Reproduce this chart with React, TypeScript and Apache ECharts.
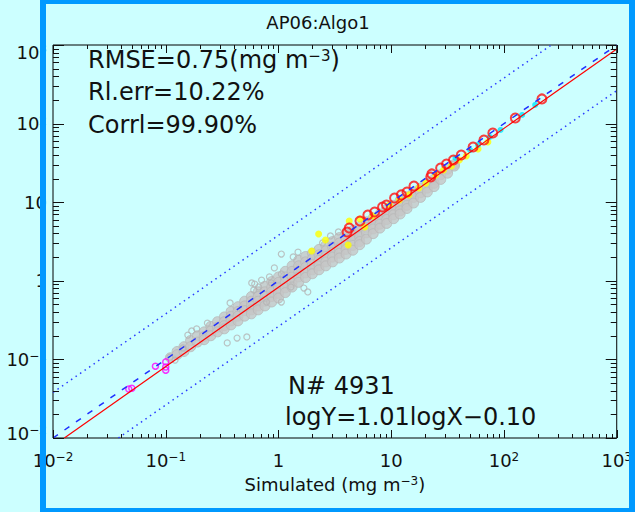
import React, { useEffect, useRef } from 'react';
import * as echarts from 'echarts';

const AXIS_MIN = 0.01;
const AXIS_MAX = 1000;

// Axis ticks and labels
const tickValues = [0.01, 0.1, 1, 10, 100, 1000];
const xTickLabels = ['{n|10}{s|−2}', '{n|10}{s|−1}', '{n|1}', '{n|10}', '{n|10}{s|2}', '{n|10}{s|3}'];
const yTickLabels = ['{nb|10}{sb|−2}', '{n|10}{s|−1}', '{n|1}', '{n|10}', '{n|10}{s|2}', '{nt|10}{st|3}'];
const minorTickValues = [
  0.02, 0.03, 0.04, 0.05, 0.06, 0.07, 0.08, 0.09,
  0.2, 0.3, 0.4, 0.5, 0.6, 0.7, 0.8, 0.9,
  2, 3, 4, 5, 6, 7, 8, 9,
  20, 30, 40, 50, 60, 70, 80, 90,
  200, 300, 400, 500, 600, 700, 800, 900,
];

const greyDense: number[][] = [
  [0.110, 0.105],
  [0.126, 0.126], [0.126, 0.115],
  [0.145, 0.145], [0.145, 0.126],
  [0.166, 0.174], [0.166, 0.145],
  [0.191, 0.200], [0.191, 0.166],
  [0.219, 0.224], [0.219, 0.195], [0.219, 0.178],
  [0.251, 0.263], [0.251, 0.229], [0.251, 0.200],
  [0.288, 0.302], [0.288, 0.257], [0.288, 0.224],
  [0.331, 0.347], [0.331, 0.302], [0.331, 0.269], [0.331, 0.245],
  [0.380, 0.407], [0.380, 0.355], [0.380, 0.309], [0.380, 0.275],
  [0.437, 0.468], [0.437, 0.407], [0.437, 0.355], [0.437, 0.309],
  [0.501, 0.550], [0.501, 0.479], [0.501, 0.417], [0.501, 0.355],
  [0.575, 0.631], [0.575, 0.550], [0.575, 0.479], [0.575, 0.427], [0.575, 0.380],
  [0.661, 0.724], [0.661, 0.631], [0.661, 0.550], [0.661, 0.479], [0.661, 0.427],
  [0.759, 0.851], [0.759, 0.724], [0.759, 0.631], [0.759, 0.550], [0.759, 0.479],
  [0.871, 0.977], [0.871, 0.832], [0.871, 0.724], [0.871, 0.631], [0.871, 0.537],
  [1.00, 1.12], [1.00, 0.955], [1.00, 0.813], [1.00, 0.692], [1.00, 0.603],
  [1.15, 1.32], [1.15, 1.12], [1.15, 0.955], [1.15, 0.813], [1.15, 0.708],
  [1.32, 1.55], [1.32, 1.32], [1.32, 1.12], [1.32, 0.955], [1.32, 0.832],
  [1.51, 1.82], [1.51, 1.55], [1.51, 1.32], [1.51, 1.12], [1.51, 0.955],
  [1.74, 2.04], [1.74, 1.74], [1.74, 1.48], [1.74, 1.26], [1.74, 1.10],
  [2.00, 2.24], [2.00, 1.91], [2.00, 1.62], [2.00, 1.38], [2.00, 1.23],
  [2.29, 2.51], [2.29, 2.14], [2.29, 1.82], [2.29, 1.55], [2.29, 1.38],
  [2.63, 2.82], [2.63, 2.40], [2.63, 2.04], [2.63, 1.74], [2.63, 1.55],
  [3.02, 3.16], [3.02, 2.69], [3.02, 2.29], [3.02, 2.00], [3.02, 1.74],
  [3.47, 3.55], [3.47, 3.02], [3.47, 2.57], [3.47, 2.24], [3.47, 1.95],
  [3.98, 3.98], [3.98, 3.39], [3.98, 2.88], [3.98, 2.51], [3.98, 2.19],
  [4.57, 4.37], [4.57, 3.80], [4.57, 3.24], [4.57, 2.82], [4.57, 2.45],
  [5.25, 4.90], [5.25, 4.27], [5.25, 3.63], [5.25, 3.16], [5.25, 2.88],
  [6.03, 5.62], [6.03, 4.79], [6.03, 4.07], [6.03, 3.39],
  [6.92, 6.31], [6.92, 5.37], [6.92, 4.57], [6.92, 3.98],
  [7.94, 7.08], [7.94, 6.03], [7.94, 5.25], [7.94, 4.68],
  [9.12, 8.13], [9.12, 6.92], [9.12, 6.03], [9.12, 5.37],
  [10.5, 9.12], [10.5, 7.94], [10.5, 6.92], [10.5, 6.17],
  [12.0, 10.5], [12.0, 8.91], [12.0, 7.76], [12.0, 7.08],
  [13.8, 11.7], [13.8, 10.2], [13.8, 9.12], [13.8, 8.32],
  [15.8, 13.5], [15.8, 11.5], [15.8, 9.77],
  [18.2, 15.1], [18.2, 13.2], [18.2, 11.5],
  [20.9, 17.4], [20.9, 15.1], [20.9, 13.5],
  [24.0, 19.5], [24.0, 17.4], [24.0, 15.8],
  [27.5, 22.4], [27.5, 19.5],
  [31.6, 26.3], [31.6, 23.4],
  [36.3, 30.2], [36.3, 28.8],
];

// Scattered grey points around the cloud
const greyScattered: number[][] = [
  [0.109, 0.107], [0.121, 0.098], [0.142, 0.140], [0.157, 0.204], [0.170, 0.230],
  [0.188, 0.244], [0.234, 0.290], [0.351, 0.162], [0.429, 0.187], [0.524, 0.193],
  [0.615, 0.910], [0.667, 0.834], [0.865, 0.938], [1.06, 1.22], [0.372, 0.522],
  [0.579, 0.938], [0.603, 0.764], [0.708, 1.02], [0.832, 1.12], [0.919, 1.46],
  [1.06, 2.19], [1.35, 2.01], [1.49, 2.32], [1.29, 0.834], [1.68, 0.809],
  [1.82, 0.721], [1.06, 0.537], [0.783, 0.537], [2.46, 3.03], [2.89, 3.72], [3.40, 4.18],
];

const yellowPoints: number[][] = [
  [2.27, 3.94], [2.61, 3.30], [1.97, 2.39], [4.24, 5.77], [4.15, 2.85], [5.83, 4.83],
  [5.28, 6.11], [6.86, 6.67], [9.64, 9.21], [11.8, 10.7], [14.4, 12.4], [17.6, 15.2],
  [20.3, 17.5], [24.8, 22.2], [29.1, 25.7], [34.2, 28.9], [40.2, 34.4], [46.3, 38.7],
  [58.9, 47.5], [72.0, 58.3],
];

const cyanPoints: number[][] = [
  [37.1, 36.5], [50.1, 46.1], [58.9, 53.5], [74.9, 67.6], [93.3, 83.0], [145, 129], [189, 173],
];

const magentaPoints: number[][] = [
  [0.047, 0.042], [0.050, 0.043], [0.081, 0.082], [0.100, 0.093], [0.100, 0.080], [0.100, 0.073],
];

const redCircles: number[][] = [
  [4.06, 4.18], [4.24, 4.70], [5.28, 5.77], [6.20, 6.87], [7.13, 7.50], [8.37, 8.69],
  [9.07, 9.21], [10.7, 11.3], [12.3, 12.4], [13.8, 13.5], [15.9, 16.1], [22.4, 20.9],
  [22.9, 22.9], [27.4, 27.2], [30.9, 30.6], [35.6, 34.4], [41.8, 39.9], [53.2, 50.4],
  [66.4, 61.8], [79.6, 75.9], [126, 118], [217, 206],
];

// Reference lines
const oneToOneX = [0.01, 1000];
const oneToOneY = [0.01, 1000];
const fitX = [0.0126, 1000];
const fitY = [0.01, 891];
const upperX = [0.01, 263];
const upperY = [0.038, 1000];
const lowerX = [0.038, 1000];
const lowerY = [0.01, 263];

const FONT = 'DejaVu Sans';
const TXT = '#111111';

function pairs(xs: number[], ys: number[]) {
  return xs.map((x, i) => [x, ys[i]]);
}

function tickIndex(v: number) {
  return tickValues.findIndex((t) => Math.abs(Math.log10(t) - Math.log10(v)) < 1e-6);
}

export default function App() {
  const ref = useRef<HTMLDivElement>(null);

  useEffect(() => {
    if (!ref.current) return;
    const chart = echarts.init(ref.current, undefined, { renderer: 'svg' });

    const labelRich = {
      n: { fontSize: 18, fontFamily: FONT, color: TXT },
      s: { fontSize: 12, fontFamily: FONT, color: TXT, verticalAlign: 'top' },
      nt: { fontSize: 18, fontFamily: FONT, color: TXT, padding: [14, 0, 0, 0] },
      st: { fontSize: 12, fontFamily: FONT, color: TXT, verticalAlign: 'top', padding: [14, 0, 0, 0] },
      nb: { fontSize: 18, fontFamily: FONT, color: TXT, padding: [0, 0, 10, 0] },
      sb: { fontSize: 12, fontFamily: FONT, color: TXT, verticalAlign: 'top', padding: [0, 0, 10, 0] },
    };

    const baseAxis = {
      type: 'log',
      logBase: 10,
      min: AXIS_MIN,
      max: AXIS_MAX,
      axisLine: { show: false },
      axisTick: { show: false },
      minorTick: { show: false },
      splitLine: { show: false },
    };

    const annRich = {
      a: { fontSize: 24, fontFamily: FONT, fill: TXT },
      b: { fontSize: 15, fontFamily: FONT, fill: TXT, verticalAlign: 'top' },
    };

    const frameColor = '#0099ff';

    const option: any = {
      animation: false,
      backgroundColor: '#ccffff',
      grid: {
        left: 53,
        top: 45,
        right: 8,
        bottom: 74,
        show: true,
        borderColor: '#000',
        borderWidth: 1,
        backgroundColor: 'transparent',
      },
      xAxis: {
        ...baseAxis,
        name: '{a|Simulated (mg m}{b|−3}{a|)}',
        nameLocation: 'middle',
        nameGap: 37,
        nameTextStyle: {
          rich: {
            a: { fontSize: 18, fontFamily: FONT, color: TXT },
            b: { fontSize: 12, fontFamily: FONT, color: TXT, verticalAlign: 'top' },
          },
        },
        axisLabel: {
          margin: 13,
          showMinLabel: true,
          showMaxLabel: true,
          hideOverlap: false,
          formatter: (v: number) => xTickLabels[tickIndex(v)] ?? '',
          rich: labelRich,
        },
      },
      yAxis: {
        ...baseAxis,
        axisLabel: {
          margin: 6,
          showMinLabel: true,
          showMaxLabel: true,
          hideOverlap: false,
          formatter: (v: number) => yTickLabels[tickIndex(v)] ?? '',
          rich: labelRich,
        },
      },
      graphic: [
        {
          type: 'text', x: 318, y: 22,
          style: { text: 'AP06:Algo1', font: `18px "${FONT}"`, fill: TXT, align: 'center', verticalAlign: 'middle' },
        },
        {
          type: 'text', x: 88, y: 60,
          style: { text: '{a|RMSE=0.75(mg m}{b|−3}{a|)}', rich: annRich, fill: TXT, verticalAlign: 'middle' },
        },
        {
          type: 'text', x: 88, y: 92,
          style: { text: 'Rl.err=10.22%', font: `24px "${FONT}"`, fill: TXT, verticalAlign: 'middle' },
        },
        {
          type: 'text', x: 88, y: 125,
          style: { text: 'Corrl=99.90%', font: `24px "${FONT}"`, fill: TXT, verticalAlign: 'middle' },
        },
        {
          type: 'text', x: 288, y: 386,
          style: { text: 'N# 4931', font: `24px "${FONT}"`, fill: TXT, verticalAlign: 'middle' },
        },
        {
          type: 'text', x: 285, y: 417,
          style: { text: 'logY=1.01logX−0.10', font: `24px "${FONT}"`, fill: TXT, verticalAlign: 'middle' },
        },
        // blue frame
        { type: 'rect', z: 100, shape: { x: 40, y: 0, width: 6, height: 512 }, style: { fill: frameColor } },
        { type: 'rect', z: 100, shape: { x: 40, y: 0, width: 595, height: 4 }, style: { fill: frameColor } },
        { type: 'rect', z: 100, shape: { x: 629, y: 0, width: 6, height: 512 }, style: { fill: frameColor } },
        { type: 'rect', z: 100, shape: { x: 40, y: 508, width: 595, height: 4 }, style: { fill: frameColor } },
      ],
      series: [
        {
          type: 'scatter',
          data: greyDense,
          symbol: 'circle',
          symbolSize: 10,
          itemStyle: { color: '#c6c6c6', borderColor: '#b8b8b8', borderWidth: 1 },
          silent: true,
        },
        {
          type: 'scatter',
          data: greyScattered,
          symbol: 'circle',
          symbolSize: 6,
          itemStyle: { color: 'rgba(0,0,0,0)', borderColor: '#b4b4b4', borderWidth: 1.2 },
          silent: true,
        },
        {
          type: 'scatter',
          data: yellowPoints,
          symbol: 'circle',
          symbolSize: 7,
          itemStyle: { color: '#ffff00' },
          silent: true,
        },
        {
          type: 'scatter',
          data: cyanPoints,
          symbol: 'circle',
          symbolSize: 6,
          itemStyle: { color: '#00e8ff' },
          silent: true,
        },
        {
          type: 'scatter',
          data: magentaPoints,
          symbol: 'circle',
          symbolSize: 6,
          itemStyle: { color: 'rgba(0,0,0,0)', borderColor: '#ff00ff', borderWidth: 1.5 },
          silent: true,
        },
        {
          type: 'line',
          data: pairs(oneToOneX, oneToOneY),
          symbol: 'none',
          lineStyle: { color: '#1f2fff', width: 1.5, type: [6, 8] },
          silent: true,
        },
        {
          type: 'line',
          data: pairs(upperX, upperY),
          symbol: 'none',
          lineStyle: { color: '#2a3cff', width: 1.5, type: [1.5, 4] },
          silent: true,
        },
        {
          type: 'line',
          data: pairs(lowerX, lowerY),
          symbol: 'none',
          lineStyle: { color: '#2a3cff', width: 1.5, type: [1.5, 4] },
          silent: true,
        },
        {
          type: 'line',
          data: pairs(fitX, fitY),
          symbol: 'none',
          lineStyle: { color: '#ff0000', width: 1.2 },
          silent: true,
        },
        {
          type: 'scatter',
          data: redCircles,
          symbol: 'circle',
          symbolSize: 9,
          itemStyle: { color: 'rgba(0,0,0,0)', borderColor: '#ff1010', borderWidth: 2 },
          silent: true,
        },
        {
          type: 'custom',
          coordinateSystem: 'cartesian2d',
          silent: true,
          clip: false,
          z: 5,
          data: [...tickValues.map((v) => [v, 2]), ...minorTickValues.map((v) => [v, 1])],
          renderItem: (_params: any, api: any) => {
            const v = api.value(0) as number;
            const major = api.value(1) === 2;
            const bottom = api.coord([v, AXIS_MIN]);
            const top = api.coord([v, AXIS_MAX]);
            const left = api.coord([AXIS_MIN, v]);
            const right = api.coord([AXIS_MAX, v]);
            const xl = major ? 8 : 4;
            const yl = major ? 11 : 6;
            const st = { stroke: '#111', lineWidth: 1 };
            const r = (n: number) => Math.round(n) + 0.5;
            return {
              type: 'group',
              children: [
                { type: 'line', shape: { x1: r(bottom[0]), y1: bottom[1], x2: r(bottom[0]), y2: bottom[1] - xl }, style: st },
                { type: 'line', shape: { x1: r(top[0]), y1: top[1], x2: r(top[0]), y2: top[1] + xl }, style: st },
                { type: 'line', shape: { x1: left[0], y1: r(left[1]), x2: left[0] + yl, y2: r(left[1]) }, style: st },
                { type: 'line', shape: { x1: right[0], y1: r(right[1]), x2: right[0] - yl, y2: r(right[1]) }, style: st },
              ],
            };
          },
        },
      ],
    };

    chart.setOption(option);
    return () => {
      chart.dispose();
    };
  }, []);

  return (
    <div
      ref={ref}
      style={{ position: 'fixed', left: 0, top: 0, width: 635, height: 512 }}
    />
  );
}
